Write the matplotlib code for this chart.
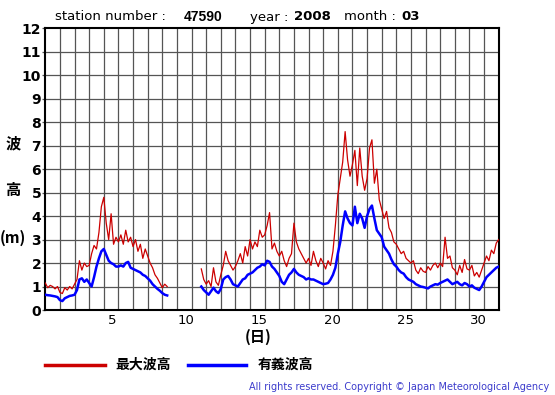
import numpy as np
import matplotlib.pyplot as plt

# -----------------------------------------------
# 波高データ (station 47590, 2008-03), 4時間ごと
# -----------------------------------------------
W, H = 555, 395
per_day = 6

# 区間1: 1日 00時 から
inicio1 = 0
rojo1 = [1.15, 0.95, 1.05, 1.0, 0.9, 1.0,
         0.75, 0.7, 0.95, 0.85, 1.0, 0.9,
         1.1, 1.3, 2.1, 1.7, 2.0, 1.85,
         1.9, 2.4, 2.75, 2.6, 3.3, 4.4,
         4.8, 3.7, 3.0, 4.1, 2.8, 3.1,
         2.9, 3.2, 2.8, 3.4, 2.9, 3.1,
         2.7, 3.0, 2.5, 2.8, 2.2, 2.6,
         2.3, 2.0, 1.8, 1.5, 1.35, 1.15,
         0.95, 1.1, 1.0]
azul1 = [0.65, 0.63, 0.62, 0.6, 0.58, 0.55,
         0.42, 0.38, 0.5, 0.55, 0.6, 0.62,
         0.65, 0.85, 1.3, 1.35, 1.2, 1.3,
         1.15, 1.0, 1.4, 1.85, 2.2, 2.5,
         2.6, 2.35, 2.1, 2.0, 1.95, 1.85,
         1.85, 1.9, 1.85, 2.0, 2.05, 1.8,
         1.75, 1.7, 1.65, 1.6, 1.5, 1.45,
         1.35, 1.25, 1.1, 1.0, 0.9, 0.82,
         0.72, 0.65, 0.62]

# 区間2: 欠測のあと
inicio2 = 64
rojo2 = [1.75, 1.3,
         1.1, 1.25, 1.0, 1.8, 1.2, 1.05,
         1.5, 1.9, 2.5, 2.1, 1.9, 1.7,
         1.85, 2.1, 2.4, 2.0, 2.7, 2.3,
         3.0, 2.6, 2.9, 2.7, 3.4, 3.1,
         3.2, 3.6, 4.15, 2.6, 2.85, 2.5,
         2.3, 2.5, 2.1, 1.85, 2.2, 2.4,
         3.7, 2.9, 2.6, 2.4, 2.2, 2.0,
         2.2, 1.9, 2.5, 2.1, 1.85, 2.2,
         2.0, 1.75, 2.1, 1.9, 2.5, 3.6,
         4.9, 5.6, 6.3, 7.6, 6.4, 5.7,
         6.2, 6.8, 5.3, 6.9, 5.7, 5.1,
         5.6, 6.9, 7.25, 5.4, 6.0, 4.7,
         4.3, 3.9, 4.2, 3.5, 3.3, 2.9,
         2.8, 2.6, 2.4, 2.5, 2.2, 2.1,
         2.0, 2.1, 1.7, 1.55, 1.8, 1.65,
         1.6, 1.85, 1.7, 1.9, 2.0, 1.8,
         2.0, 1.85, 3.1, 2.2, 2.3, 1.8,
         1.7, 1.5, 1.9, 1.6, 2.15, 1.75,
         1.7, 1.9, 1.45, 1.6, 1.4, 1.7,
         2.0, 2.3, 2.1, 2.55, 2.4, 2.85, 3.0]
azul2 = [1.0, 0.85,
         0.75, 0.65, 0.8, 0.95, 0.8, 0.72,
         0.9, 1.3, 1.4, 1.45, 1.3, 1.1,
         1.05, 1.0, 1.15, 1.3, 1.35, 1.5,
         1.55, 1.6, 1.7, 1.8, 1.85, 1.95,
         1.9, 2.1, 2.05, 1.85, 1.75, 1.6,
         1.45, 1.2, 1.1, 1.3, 1.5, 1.6,
         1.75, 1.6, 1.5, 1.45, 1.4, 1.3,
         1.35, 1.3, 1.3, 1.25, 1.2, 1.15,
         1.1, 1.12, 1.15, 1.3, 1.5, 1.8,
         2.4, 2.9, 3.6, 4.2, 3.9, 3.7,
         3.6, 4.4, 3.7, 4.1, 3.9, 3.5,
         4.0, 4.3, 4.45, 3.9, 3.4, 3.25,
         3.1, 2.7, 2.55, 2.4, 2.15, 1.95,
         1.85, 1.7, 1.6, 1.55, 1.4, 1.3,
         1.25, 1.2, 1.1, 1.05, 1.0, 0.98,
         0.95, 0.92, 1.0, 1.05, 1.1, 1.08,
         1.15, 1.2, 1.25, 1.3, 1.2, 1.1,
         1.15, 1.2, 1.1, 1.05, 1.15, 1.1,
         1.0, 1.05, 0.95, 0.9, 0.85, 1.0,
         1.2, 1.4, 1.5, 1.6, 1.7, 1.8, 1.85]

dias_marcados = [5, 10, 15, 20, 25, 30]
y_ticks = list(range(0, 13))

t1 = (inicio1 + np.arange(len(rojo1))) / per_day
t2 = (inicio2 + np.arange(len(rojo2))) / per_day

cjk = ['Noto Sans CJK JP', 'DejaVu Sans']

fig = plt.figure(figsize=(W / 100, H / 100), dpi=100)
x0, x1, y0, y1 = 45.3, 498.7, 28.3, 310
ax = fig.add_axes([x0 / W, 1 - y1 / H, (x1 - x0) / W, (y1 - y0) / H])

for t, r, b in [(t1, rojo1, azul1), (t2, rojo2, azul2)]:
    ax.plot(t, r, color='#cc0000', lw=0.9, zorder=3)
    ax.plot(t, b, color='#0000ff', lw=1.8, zorder=4)

ax.set_xlim(0, 31)
ax.set_ylim(0, 12)
for d in range(1, 31):
    ax.axvline(d, color='#555555', lw=0.9, zorder=1)
for v in range(1, 12):
    ax.axhline(v, color='#555555', lw=0.9, zorder=1)

ax.set_yticks(y_ticks)
ax.set_yticklabels([str(v) for v in y_ticks], fontsize=10, fontweight='bold')
ax.tick_params(axis='y', length=2.5, width=0.9, pad=0.5, color='#555555')
ax.set_xticks([d - 0.4 for d in dias_marcados])
ax.set_xticklabels([str(d) for d in dias_marcados], fontsize=9.5)
ax.tick_params(axis='x', length=0, pad=3)
for s in ax.spines.values():
    s.set_linewidth(1.5)

# textos
def px(x, y):
    return x / W, 1 - y / H

ty = 17
fig.text(*px(55, ty), 'station number : ', fontsize=9.5, va='center')
fig.text(*px(184, ty), '47590', family='Liberation Sans', fontsize=10, va='center', fontweight='bold')
fig.text(*px(250, ty), 'year : ', fontsize=9.5, va='center')
fig.text(*px(294, ty), '2008', fontsize=9.5, va='center', fontweight='bold')
fig.text(*px(344, ty), 'month : ', fontsize=9.5, va='center')
fig.text(*px(401, ty), '03', fontsize=9.5, va='center', fontweight='bold')

fig.text(*px(13, 143), '波', family=cjk, fontsize=11, fontweight='bold', ha='center', va='center')
fig.text(*px(13, 190), '高', family=cjk, fontsize=11, fontweight='bold', ha='center', va='center')
fig.text(*px(13, 238), '(m)', family=cjk, fontsize=11, fontweight='bold', ha='center', va='center')
fig.text(*px(258, 337), '(日)', family=cjk, fontsize=11, fontweight='bold', ha='center', va='center')

# leyenda
fig.add_artist(plt.Line2D([45 / W, 105 / W], [1 - 365 / H] * 2, color='#cc0000', lw=2.5))
fig.text(*px(115, 365), '最大波高', family=cjk, fontsize=10, fontweight='bold', va='center')
fig.add_artist(plt.Line2D([188 / W, 246 / W], [1 - 365 / H] * 2, color='#0000ff', lw=2.5))
fig.text(*px(258, 365), '有義波高', family=cjk, fontsize=10, fontweight='bold', va='center')

fig.text(*px(549, 387), 'All rights reserved. Copyright \u00a9 Japan Meteorological Agency',
         fontsize=7, color='#3c3ccc', ha='right', va='center')

fig.savefig('out.png', dpi=100)
